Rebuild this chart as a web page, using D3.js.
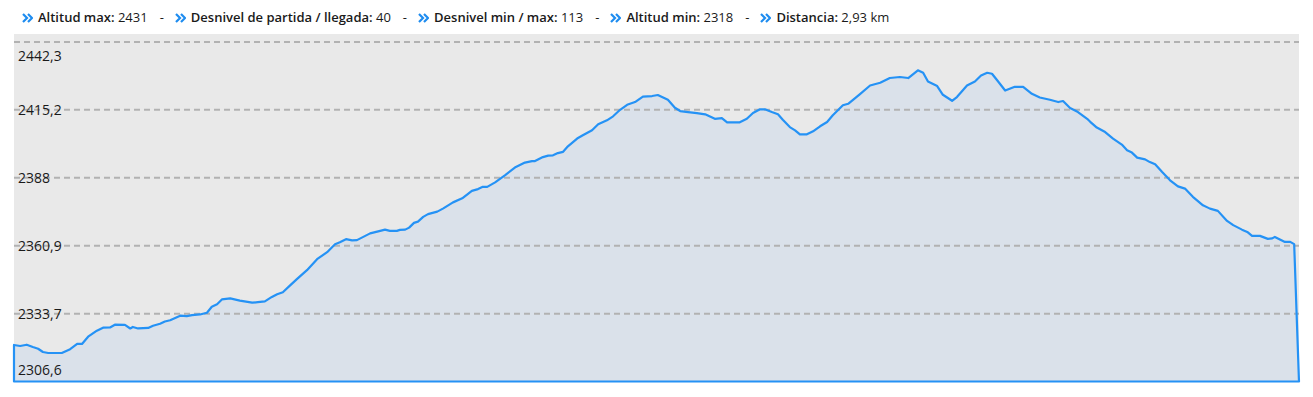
<!DOCTYPE html>
<html>
<head>
<meta charset="utf-8">
<script src="https://cdnjs.cloudflare.com/ajax/libs/d3/7.8.5/d3.min.js"></script>
<style>
body { margin: 0; background: #fff; font-family: "Open Sans", sans-serif; }
#wrap { position: relative; width: 1313px; height: 397px; }
#stats { position: absolute; left: 22px; top: 8px; font-size: 13px; color: #1a1a1a; white-space: nowrap; line-height: 18px; }
#stats .ico { display: inline-block; width: 11px; height: 10px; margin-right: 5px; vertical-align: -1px; }
#stats b { font-weight: 600; }
#stats .sep { margin: 0 11px 0 12px; }
#chart { position: absolute; left: 0; top: 0; }
</style>
</head>
<body>
<div id="wrap">
  <svg id="chart" width="1313" height="397"></svg>
  <div id="stats"></div>
</div>
<script>
// header stats
var statLabels = ["Altitud max:", "Desnivel de partida / llegada:", "Desnivel min / max:", "Altitud min:", "Distancia:"];
var statValues = ["2431", "40", "113", "2318", "2,93 km"];

// elevation profile: distance (m) and altitude (m)
var distances = [0, 14, 29, 43, 55, 66, 78, 109, 128, 144, 155, 169, 189, 203, 219, 230, 253, 265, 271, 283,
  306, 317, 333, 344, 356, 379, 394, 406, 424, 440, 451, 463, 474, 493, 515, 543, 556, 572, 588, 600,
  613, 629, 645, 668, 691, 714, 732, 743, 757, 771, 782, 812, 835, 846, 857, 873, 880, 892, 901, 912,
  921, 933, 944, 965, 978, 1001, 1022, 1044, 1058, 1069, 1079, 1097, 1120, 1142, 1165, 1181, 1188, 1206, 1218, 1229,
  1240, 1252, 1263, 1284, 1297, 1318, 1332, 1352, 1366, 1382, 1398, 1416, 1434, 1455, 1468, 1491, 1507, 1519, 1537, 1557,
  1576, 1598, 1614, 1626, 1655, 1671, 1685, 1701, 1712, 1728, 1742, 1753, 1769, 1781, 1792, 1808, 1822, 1838, 1854, 1867,
  1890, 1902, 1929, 1952, 1975, 1997, 2020, 2039, 2061, 2073, 2084, 2105, 2118, 2139, 2150, 2173, 2191, 2205, 2219, 2230,
  2244, 2260, 2282, 2301, 2321, 2339, 2362, 2381, 2392, 2408, 2426, 2447, 2454, 2469, 2488, 2506, 2526, 2538, 2549, 2561,
  2579, 2590, 2602, 2618, 2636, 2654, 2670, 2688, 2711, 2727, 2745, 2766, 2780, 2800, 2812, 2823, 2841, 2859, 2869, 2875,
  2898, 2910, 2919, 2930];
var altitudes = [2321.2, 2320.8, 2321.3, 2320.4, 2319.7, 2318.4, 2318.0, 2318.0, 2319.5, 2321.6, 2321.6, 2324.5, 2326.9, 2328.1, 2328.2, 2329.3, 2329.2, 2327.8, 2328.4, 2327.8,
  2328.0, 2328.9, 2329.7, 2330.6, 2331.1, 2332.9, 2332.7, 2333.1, 2333.4, 2334.1, 2336.5, 2337.5, 2339.4, 2339.8, 2338.9, 2338.1, 2338.3, 2338.6, 2340.4, 2341.5,
  2342.3, 2344.9, 2347.5, 2351.1, 2355.5, 2358.3, 2361.5, 2362.3, 2363.5, 2363.0, 2363.1, 2365.8, 2366.8, 2367.3, 2366.8, 2366.8, 2367.2, 2367.3, 2368.1, 2370.0,
  2370.5, 2372.4, 2373.5, 2374.5, 2375.7, 2378.2, 2379.8, 2382.8, 2383.5, 2384.4, 2384.4, 2386.2, 2389.1, 2392.1, 2394.1, 2394.7, 2394.7, 2396.3, 2396.9, 2397.0,
  2397.9, 2398.4, 2400.6, 2403.7, 2405.0, 2407.0, 2409.4, 2411.0, 2412.6, 2415.2, 2417.2, 2418.3, 2420.5, 2420.7, 2421.1, 2419.2, 2416.0, 2414.7, 2414.3, 2413.9,
  2413.4, 2411.6, 2411.9, 2410.2, 2410.2, 2411.6, 2413.9, 2415.4, 2415.4, 2414.3, 2413.4, 2411.2, 2408.3, 2407.0, 2405.4, 2405.4, 2406.6, 2408.6, 2410.3, 2413.0,
  2417.0, 2417.6, 2421.5, 2424.9, 2426.0, 2427.9, 2428.3, 2427.9, 2431.0, 2430.0, 2426.5, 2424.7, 2421.2, 2418.8, 2420.3, 2424.9, 2426.5, 2428.9, 2430.0, 2429.6,
  2426.5, 2422.9, 2424.4, 2424.4, 2421.6, 2420.1, 2419.2, 2418.3, 2418.7, 2415.9, 2414.3, 2411.6, 2410.4, 2408.1, 2406.3, 2403.7, 2401.3, 2399.0, 2398.1, 2396.1,
  2395.4, 2394.3, 2393.4, 2390.3, 2387.0, 2384.6, 2383.7, 2380.4, 2377.0, 2375.7, 2374.8, 2370.8, 2369.1, 2367.3, 2366.4, 2364.8, 2364.8, 2363.6, 2363.8, 2364.4,
  2362.4, 2362.4, 2361.5, 2306.6];

// y ticks
var tickValues = [2306.6, 2333.7, 2360.9, 2388, 2415.2, 2442.3];
var tickLabels = ["2306,6", "2333,7", "2360,9", "2388", "2415,2", "2442,3"];

// plot box (don't call it "top", that's window.top)
var plotLeft = 14, plotRight = 1299, plotTop = 34, plotBottom = 381.5;

// header
var stats = d3.select("#stats");
statLabels.forEach(function (lab, i) {
  var ico = stats.append("svg").attr("class", "ico").attr("viewBox", "0 0 11 10");
  ico.append("path").attr("d", "M1,1 L5,5 L1,9 M6,1 L10,5 L6,9")
    .attr("fill", "none").attr("stroke", "#1e8cf0").attr("stroke-width", 2.2)
    .attr("stroke-linejoin", "miter");
  stats.append("b").text(lab);
  stats.append("span").text(" " + statValues[i]);
  if (i < statLabels.length - 1) stats.append("span").attr("class", "sep").text("-");
});

var data = distances.map(function (d, i) { return { d: d, a: altitudes[i] }; });

var xScale = d3.scaleLinear().domain([0, 2930]).range([plotLeft, plotRight]);
var yScale = d3.scaleLinear().domain([tickValues[0], tickValues[tickValues.length - 1]]).range([plotBottom, 42]);

var svg = d3.select("#chart");

// plot background
svg.append("rect")
  .attr("x", plotLeft).attr("y", plotTop)
  .attr("width", plotRight - plotLeft).attr("height", plotBottom - plotTop)
  .attr("fill", "#e9e9e9");

var area = d3.area()
  .x(function (d) { return xScale(d.d); })
  .y0(yScale(tickValues[0]))
  .y1(function (d) { return yScale(d.a); });

svg.append("path")
  .datum(data)
  .attr("d", area)
  .attr("fill", "#dae1ea");

// grid lines
svg.selectAll("line.grid")
  .data(tickValues.slice(1))
  .enter()
  .append("line")
  .attr("class", "grid")
  .attr("x1", plotLeft).attr("x2", plotRight)
  .attr("y1", function (d) { return yScale(d); })
  .attr("y2", function (d) { return yScale(d); })
  .attr("stroke", "#b2b2b2")
  .attr("stroke-width", 2)
  .attr("stroke-dasharray", "6,4");

// profile outline
svg.append("path")
  .datum(data)
  .attr("d", area)
  .attr("fill", "none")
  .attr("stroke", "#2592f5")
  .attr("stroke-width", 2.2)
  .attr("stroke-linejoin", "round");

// y labels, kept inside the plot
svg.selectAll("text.ylab")
  .data(tickValues)
  .enter()
  .append("text")
  .attr("class", "ylab")
  .attr("x", 18)
  .attr("y", function (d) { return Math.max(plotTop + 21.5, Math.min(plotBottom - 12, yScale(d))); })
  .attr("dominant-baseline", "central")
  .attr("font-family", "'Open Sans', sans-serif")
  .attr("font-size", "14px")
  .attr("fill", "#1a1a1a")
  .text(function (d, i) { return tickLabels[i]; });
</script>
</body>
</html>
